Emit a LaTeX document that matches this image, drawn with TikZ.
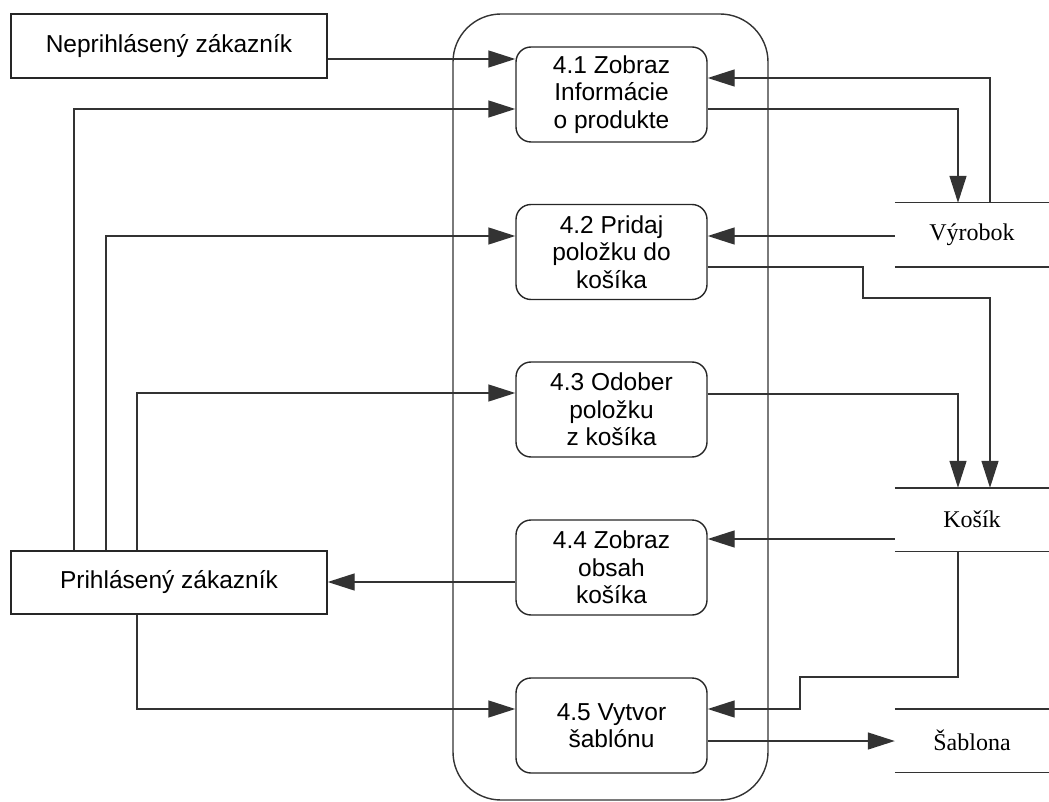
\documentclass[tikz,border=0pt]{standalone}
\usepackage{fontspec}
\setmainfont{Liberation Sans}
\newfontfamily\storefont{Liberation Serif}
\usetikzlibrary{arrows.meta}

\tikzset{
  line/.style={draw=black!80, line width=1.4pt},
  arr/.style={line, -{Triangle[length=27pt,width=17pt]}},
  entity/.style={line, draw=black!85, minimum width=316pt, minimum height=64pt,
    inner sep=0pt, font=\fontsize{24.5}{27.5}\selectfont},
  process/.style={line, draw=black!85, rounded corners=15pt, minimum width=191pt,
    minimum height=95pt, inner sep=0pt, align=center,
    font=\fontsize{24.5}{27.5}\selectfont},
  store/.style={minimum width=154pt, minimum height=64pt, inner sep=0pt,
    font=\storefont\fontsize{24}{27}\selectfont},
  boundary/.style={line, rounded corners=48pt, minimum width=315pt,
    minimum height=786pt, inner sep=0pt},
}

\begin{document}
\begin{tikzpicture}[x=1pt, y=-1pt]
\useasboundingbox (0,0) rectangle (1049,802);

% system boundary
\node[boundary] (sys) at (610.5,407) {};

% external entities
\node[entity] (e1) at (169,46) {Neprihlásený zákazník};
\node[entity, minimum height=63pt] (e2) at (169,582.5) {Prihlásený zákazník};

% processes
\node[process] (p1) at (611.5,94.5)  {4.1 Zobraz\\Informácie\\o produkte};
\node[process] (p2) at (611.5,252)   {4.2 Pridaj\\položku do\\košíka};
\node[process] (p3) at (611.5,409.5) {4.3 Odober\\položku\\z košíka};
\node[process] (p4) at (611.5,567.5) {4.4 Zobraz\\obsah\\košíka};
\node[process] (p5) at (611.5,725.5) {4.5 Vytvor\\šablónu};

% data stores
\node[store] (vyr) at (972,235) {Výrobok};
\node[store, minimum height=63pt] (kos) at (972,519.5) {Košík};
\node[store, minimum height=63pt] (sab) at (972,740.5) {Šablona};
\foreach \s in {vyr,kos,sab}{
  \draw[line] (\s.north west) -- (\s.north east);
  \draw[line] (\s.south west) -- (\s.south east);
}

% flows from the entities
\draw[arr] (e1.east |- 0,59) -- (p1.west |- 0,59);
\draw[arr] (e2.north -| 74,0) |- (p1.west |- 0,109);
\draw[arr] (e2.north -| 106,0) |- (p2.west |- 0,236);
\draw[arr] (e2.north -| 137,0) |- (p3.west |- 0,393);
\draw[arr] (e2.south -| 137,0) |- (p5.west |- 0,709);
\draw[arr] (p4.west |- 0,582) -- (e2.east |- 0,582);

% flows between processes and stores
\draw[arr] (vyr.north -| 990,0) |- (p1.east |- 0,78);
\draw[arr] (p1.east |- 0,109) -| (vyr.north -| 958,0);
\draw[arr] (vyr.west |- 0,236) -- (p2.east |- 0,236);
\draw[arr] (p2.east |- 0,267) -- (863,267) -- (863,298) -| (kos.north -| 990,0);
\draw[arr] (p3.east |- 0,394) -| (kos.north -| 958,0);
\draw[arr] (kos.west |- 0,539) -- (p4.east |- 0,539);
\draw[arr] (kos.south -| 958,0) -- (958,677) -- (800,677) |- (p5.east |- 0,709);
\draw[arr] (p5.east |- 0,741) -- (sab.west |- 0,741);
\end{tikzpicture}
\end{document}
